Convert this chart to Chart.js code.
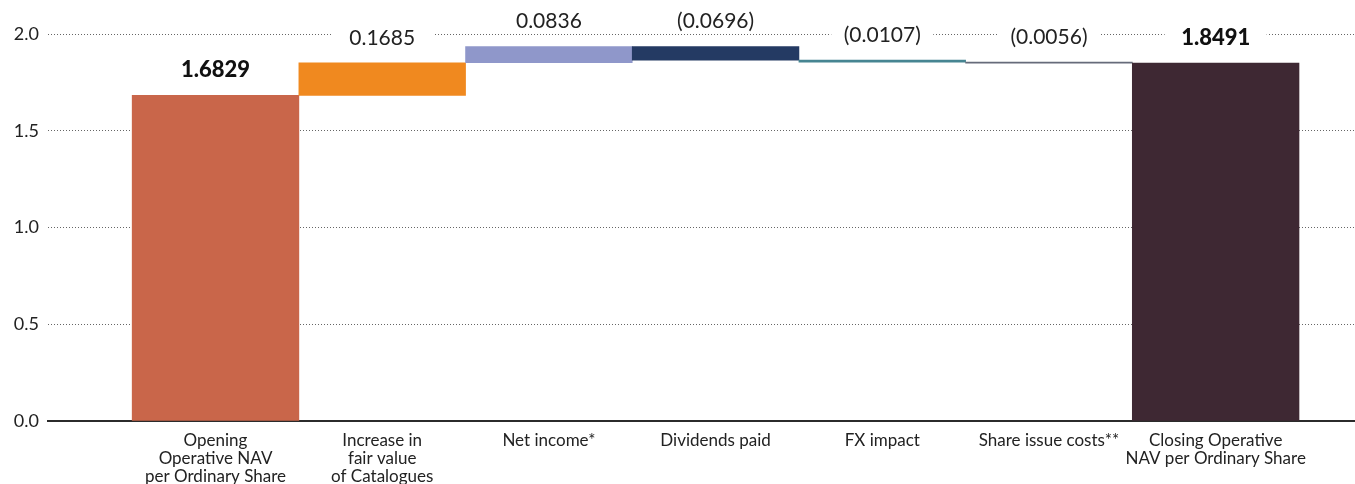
<!DOCTYPE html>
<html lang="en">
<head>
  <meta charset="UTF-8">
  <title>Operative NAV per Ordinary Share</title>
  <script src="https://cdn.jsdelivr.net/npm/chart.js"></script>
  <style>
    html, body { margin: 0; padding: 0; background: #fff; }
    canvas { display: block; }
  </style>
</head>
<body>
  <canvas id="navChart" width="1355" height="484"></canvas>

  <script>
    // Categories along the bottom (arrays = multi-line labels)
    const categories = [
      ['Opening', 'Operative NAV', 'per Ordinary Share'],
      ['Increase in', 'fair value', 'of Catalogues'],
      'Net income*',
      'Dividends paid',
      'FX impact',
      'Share issue costs**',
      ['Closing Operative', 'NAV per Ordinary Share']
    ];

    // Opening value, the movements in between, and the closing value
    const openingNav = 1.6829;
    const movements = [0.1685, 0.0836, -0.0696, -0.0107, -0.0056];
    const closingNav = 1.8491;

    const barColors = ['#c9664a', '#f0891f', '#8f97ca', '#243a63', '#468592', '#666b7a', '#3e2833'];

    // Build floating bars [low, high] for the waterfall
    function buildBars() {
      const bars = [{ x: 0, y: [0, openingNav] }];
      let running = openingNav;
      movements.forEach((m, i) => {
        const next = running + m;
        bars.push({ x: i + 1, y: [running, next] });
        running = next;
      });
      bars.push({ x: movements.length + 1, y: [0, closingNav] });
      return bars;
    }

    const fmt = (v) => v < 0 ? '(' + Math.abs(v).toFixed(4) + ')' : v.toFixed(4);
    const labelValues = [openingNav, ...movements, closingNav];
    const boldLabels = [0, labelValues.length - 1];

    // Value labels above each bar, on a white patch so the dotted line breaks
    const valueLabels = {
      id: 'valueLabels',
      afterDatasetsDraw(chart) {
        const { ctx, scales: { x, y } } = chart;
        const bars = chart.data.datasets[0].data;
        ctx.save();
        ctx.textAlign = 'center';
        ctx.textBaseline = 'middle';
        bars.forEach((b, i) => {
          const top = y.getPixelForValue(Math.max(b.y[0], b.y[1]));
          const cx = x.getPixelForValue(b.x);
          const cy = top - 25;
          ctx.fillStyle = '#fff';
          ctx.fillRect(cx - 51, cy - 12, 102, 24);
          const bold = boldLabels.includes(i);
          ctx.font = (bold ? '900 22px' : '21px') + ' Lato';
          ctx.fillStyle = bold ? '#111' : '#222';
          ctx.fillText(fmt(labelValues[i]), cx, cy);
        });
        ctx.restore();
      }
    };

    const ctx = document.getElementById('navChart').getContext('2d');
    const navChart = new Chart(ctx, {
      type: 'bar',
      data: {
        datasets: [{
          data: buildBars(),
          backgroundColor: barColors,
          borderWidth: 0,
          barPercentage: 1,
          categoryPercentage: 1
        }]
      },
      options: {
        responsive: false,
        animation: false,
        layout: { padding: { top: 34, right: 0, bottom: 0, left: 0 } },
        plugins: {
          legend: { display: false },
          tooltip: { enabled: false }
        },
        scales: {
          x: {
            type: 'linear',
            offset: false,
            min: -1.005,
            max: 6.836,
            afterFit: (scale) => { scale.height = 63; },
            grid: { display: false, drawTicks: false },
            border: { display: true, color: '#2b2b2b', width: 2 },
            ticks: {
              stepSize: 1,
              includeBounds: false,
              autoSkip: false,
              maxRotation: 0,
              padding: 10,
              color: '#222',
              font: { family: 'Lato', size: 17, lineHeight: 1.08 },
              callback: (v) => categories[v] ?? ''
            }
          },
          y: {
            min: 0,
            max: 2,
            afterFit: (scale) => { scale.width = 48; },
            border: { display: false, dash: [1, 2] },
            grid: {
              drawTicks: false,
              lineWidth: 1,
              color: (c) => c.tick && c.tick.value === 0 ? 'rgba(0,0,0,0)' : '#666'
            },
            ticks: {
              stepSize: 0.5,
              padding: 9,
              color: '#222',
              font: { family: 'Lato', size: 18 },
              callback: (v) => Number(v).toFixed(1)
            }
          }
        }
      },
      plugins: [valueLabels]
    });
  </script>
</body>
</html>
